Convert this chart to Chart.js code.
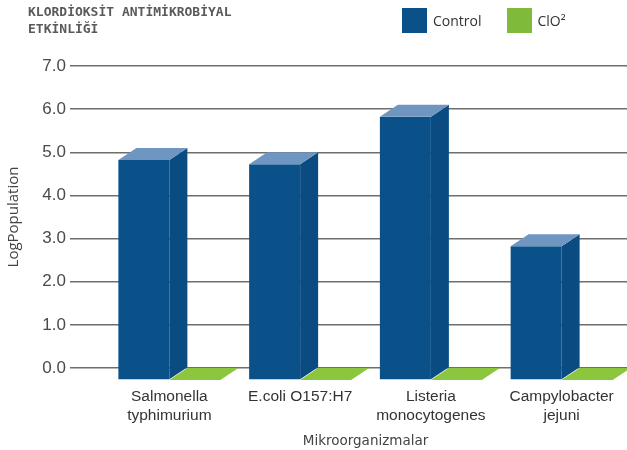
<!DOCTYPE html>
<html>
<head>
<meta charset="utf-8">
<script src="https://cdn.jsdelivr.net/npm/chart.js@4"></script>
<style>
  body { margin: 0; background: #fff; }
  #wrap { position: relative; width: 627px; height: 450px; }
  #chart-title {
    position: absolute; left: 28px; top: 3px;
    font-family: 'DejaVu Sans Mono', monospace; font-size: 13px; line-height: 17px;
    font-weight: bold; color: #5a5a5a; white-space: pre;
  }
  #legend {
    position: absolute; left: 402px; top: 8px;
    display: flex; gap: 25px;
    font-family: 'Open Sans', sans-serif; font-size: 14px; color: #333;
  }
  #legend .item { display: flex; align-items: center; }
  #legend .box { width: 25px; height: 25px; margin-right: 6px; }
</style>
</head>
<body>
<div id="wrap">
  <div id="chart-title">KLORDİOKSİT ANTİMİKROBİYAL
ETKİNLİĞİ</div>
  <div id="legend"></div>
  <canvas id="chart" width="627" height="450"></canvas>
</div>
<script>
// chart data
const categories = [
    ['Salmonella', 'typhimurium'],
    ['E.coli O157:H7'],
    ['Listeria', 'monocytogenes'],
    ['Campylobacter', 'jejuni']
];
const seriesNames = ['Control', 'ClO²'];
const controlValues = [5.1, 5.0, 6.1, 3.1];
const clo2Values = [0, 0, 0, 0];
const yMin = 0;
const yMax = 7;
const yStep = 1;

// 3d look
const DEPTH_X = 18;
const DEPTH_Y = 12;

const blue = { face: '#0b5189', top: '#6f96c0', side: '#0a4c82', legend: '#0b5189' };
const green = { face: '#7cb93a', top: '#8cc63f', side: '#74ad35', legend: '#7fba3a' };

const bars3d = {
    id: 'bars3d',
    afterDatasetsDraw(chart) {
        const ctx = chart.ctx;
        ctx.save();
        chart.data.datasets.forEach((ds, i) => {
            const meta = chart.getDatasetMeta(i);
            meta.data.forEach(bar => {
                const { x, y, base, width } = bar.getProps(['x', 'y', 'base', 'width'], true);
                const l = x - width / 2;
                const r = x + width / 2;
                const top = y + DEPTH_Y;
                const bot = base + DEPTH_Y;

                if (bot - top > 0.5) {
                    // front face
                    ctx.fillStyle = ds.look.face;
                    ctx.fillRect(l, top, width, bot - top);
                    // right side face
                    ctx.fillStyle = ds.look.side;
                    ctx.beginPath();
                    ctx.moveTo(r, top);
                    ctx.lineTo(r + DEPTH_X, top - DEPTH_Y);
                    ctx.lineTo(r + DEPTH_X, bot - DEPTH_Y);
                    ctx.lineTo(r, bot);
                    ctx.closePath();
                    ctx.fill();
                }
                // top face
                ctx.fillStyle = ds.look.top;
                ctx.beginPath();
                ctx.moveTo(l, top);
                ctx.lineTo(r, top);
                ctx.lineTo(r + DEPTH_X, top - DEPTH_Y);
                ctx.lineTo(l + DEPTH_X, top - DEPTH_Y);
                ctx.closePath();
                ctx.fill();
            });
        });
        ctx.restore();
    }
};

const ctx = document.getElementById('chart').getContext('2d');
const chart = new Chart(ctx, {
    type: 'bar',
    data: {
        labels: categories,
        datasets: [
            {
                label: seriesNames[0],
                data: controlValues,
                backgroundColor: 'rgba(0,0,0,0)',
                look: blue,
                categoryPercentage: 0.78,
                barPercentage: 1.0
            },
            {
                label: seriesNames[1],
                data: clo2Values,
                backgroundColor: 'rgba(0,0,0,0)',
                look: green,
                categoryPercentage: 0.78,
                barPercentage: 1.0
            }
        ]
    },
    options: {
        responsive: false,
        animation: false,
        layout: { padding: { top: 66, right: 0, bottom: 0, left: 0 } },
        plugins: {
            legend: { display: false },
            tooltip: { enabled: false }
        },
        scales: {
            x: {
                grid: { display: false },
                border: { display: false },
                ticks: {
                    color: '#333',
                    padding: 11,
                    maxRotation: 0,
                    minRotation: 0,
                    autoSkip: false,
                    font: { family: "'Liberation Sans', Arial, sans-serif", size: 15.5, lineHeight: 1.25 }
                },
                title: {
                    display: true,
                    text: 'Mikroorganizmalar',
                    color: '#444',
                    padding: { top: 0, bottom: 0 },
                    font: { family: "'DejaVu Sans', sans-serif", size: 13.5 }
                },
                afterFit: (scale) => { scale.height = 82; }
            },
            y: {
                min: yMin,
                max: yMax,
                grid: {
                    color: '#6e6e6e',
                    lineWidth: 1.5,
                    drawTicks: true,
                    tickLength: 34
                },
                border: { display: false },
                ticks: {
                    stepSize: yStep,
                    color: '#4a4a4a',
                    padding: 4,
                    font: { family: "'Liberation Sans', Arial, sans-serif", size: 17 },
                    callback: (v) => Number(v).toFixed(1)
                },
                title: {
                    display: true,
                    text: 'LogPopulation',
                    color: '#444',
                    padding: { top: 5, bottom: 0 },
                    font: { family: "'Open Sans', sans-serif", size: 15 }
                },
                afterFit: (scale) => { scale.width = 104; }
            }
        }
    },
    plugins: [bars3d]
});

// html legend built from the datasets
const legendEl = document.getElementById('legend');
chart.data.datasets.forEach(ds => {
    const item = document.createElement('div');
    item.className = 'item';
    const box = document.createElement('span');
    box.className = 'box';
    box.style.background = ds.look.legend;
    const lbl = document.createElement('span');
    lbl.textContent = ds.label;
    item.appendChild(box);
    item.appendChild(lbl);
    legendEl.appendChild(item);
});
</script>
</body>
</html>
